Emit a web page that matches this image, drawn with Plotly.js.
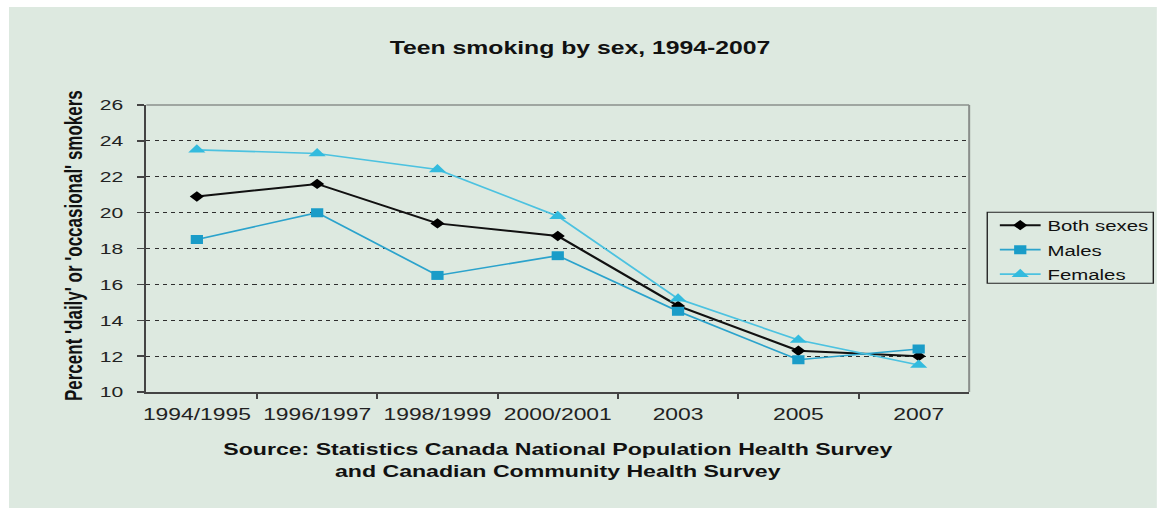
<!DOCTYPE html>
<html>
<head>
<meta charset="utf-8">
<script src="https://cdn.plot.ly/plotly-3.0.1.min.js"></script>
<style>
  html, body { margin: 0; padding: 0; background: #ffffff; }
  #wrap { position: relative; width: 1160px; height: 508px; background: #ffffff; overflow: hidden; }
  /* the chart is laid out narrow and widened horizontally */
  #chart { position: absolute; left: 9px; top: 7px; width: 844px; height: 501px;
           transform: scaleX(1.36); transform-origin: 0 0; }
</style>
</head>
<body>
<div id="wrap"><div id="chart"></div></div>
<script>
// Survey periods
const periods = ['1994/1995', '1996/1997', '1998/1999', '2000/2001', '2003', '2005', '2007'];

// Percent of teens who are daily or occasional smokers
const bothSexes = [20.9, 21.6, 19.4, 18.7, 14.8, 12.3, 12.0];
const males     = [18.5, 20.0, 16.5, 17.6, 14.5, 11.8, 12.4];
const females   = [23.5, 23.3, 22.4, 19.8, 15.2, 12.9, 11.5];

const yTicks = [10, 12, 14, 16, 18, 20, 22, 24, 26];

const FONT = 'Liberation Sans, Arial, sans-serif';
const BG = '#dde9e0';

const traces = [
  {
    x: periods, y: bothSexes, name: 'Both sexes', legendgroup: 'both', type: 'scatter', mode: 'lines+markers',
    line: { color: '#111111', width: 2 },
    marker: { symbol: 'diamond', size: 8, color: '#000000' }
  },
  {
    x: periods, y: males, name: 'Males', legendgroup: 'males', type: 'scatter', mode: 'lines+markers',
    line: { color: '#2ba3cc', width: 1.6 },
    marker: { symbol: 'square', size: 9, color: '#1a9cc8' }
  },
  {
    x: periods, y: females, name: 'Females', legendgroup: 'females', type: 'scatter', mode: 'lines+markers',
    line: { color: '#4cc2e0', width: 1.6 },
    marker: { symbol: 'triangle-up', size: 11, color: '#33bbde' }
  }
];

const layout = {
  width: 844, height: 501,
  paper_bgcolor: BG, plot_bgcolor: BG,
  margin: { l: 101, r: 138, t: 98, b: 116 },
  font: { family: FONT, color: '#222222' },
  showlegend: true,
  title: {
    text: 'Teen smoking by sex, 1994-2007',
    font: { family: FONT, size: 18.2, color: '#111111', weight: 'bold' },
    xref: 'container', x: 0.4975, xanchor: 'center',
    yref: 'container', y: 0.918, yanchor: 'middle'
  },
  xaxis: {
    type: 'category',
    tickson: 'boundaries',
    ticks: 'outside', ticklen: 5, tickwidth: 1.5, tickcolor: '#444444',
    showline: true, linecolor: '#444444', linewidth: 2,
    showgrid: false, zeroline: false,
    tickangle: 0,
    tickfont: { family: FONT, size: 16.8, color: '#222222' },
    ticklabelstandoff: 6,
    title: {
      text: 'Source: Statistics Canada National Population Health Survey<br>and Canadian Community Health Survey',
      font: { family: FONT, size: 17, color: '#111111', weight: 'bold' },
      standoff: 20
    },
    automargin: false,
    fixedrange: true
  },
  yaxis: {
    range: [10, 26],
    tickvals: yTicks, ticktext: yTicks.map(String),
    ticks: 'outside', ticklen: 5, tickwidth: 1.5, tickcolor: '#444444',
    showline: true, linecolor: '#444444', linewidth: 2,
    showgrid: true, gridcolor: '#2e2e2e', gridwidth: 1, griddash: 'dot',
    zeroline: false,
    tickfont: { family: FONT, size: 15.5, color: '#222222' },
    ticklabelstandoff: 7,
    automargin: false,
    fixedrange: true
  },
  legend: {
    xref: 'container', yref: 'container',
    x: 0.8573, xanchor: 'left', y: 0.597, yanchor: 'top',
    bgcolor: 'rgba(0,0,0,0)', borderwidth: 0,
    font: { family: FONT, size: 15, color: '#111111' },
    traceorder: 'grouped', tracegroupgap: 2
  },
  shapes: [
    // light top and right frame of the plotting area
    { type: 'line', xref: 'paper', yref: 'paper', x0: 0, x1: 1, y0: 1, y1: 1,
      line: { color: '#8a8f8c', width: 1.5 }, layer: 'above' },
    { type: 'line', xref: 'paper', yref: 'paper', x0: 1, x1: 1, y0: 0, y1: 1,
      line: { color: '#8a8f8c', width: 1.5 }, layer: 'above' },
    // legend frame
    { type: 'rect', xref: 'paper', yref: 'paper', x0: 1.022, x1: 1.2238, y0: 0.3787, y1: 0.626,
      line: { color: '#222222', width: 1 }, fillcolor: 'rgba(0,0,0,0)', layer: 'above' }
  ],
  annotations: [
    {
      text: "Percent 'daily' or 'occasional' smokers",
      textangle: -90,
      xref: 'paper', yref: 'paper', x: -0.0868, y: 0.51,
      xanchor: 'center', yanchor: 'middle', showarrow: false,
      font: { family: FONT, size: 17, color: '#111111', weight: 'bold' }
    }
  ]
};

Plotly.newPlot('chart', traces, layout, { displayModeBar: false, staticPlot: true });
</script>
</body>
</html>
